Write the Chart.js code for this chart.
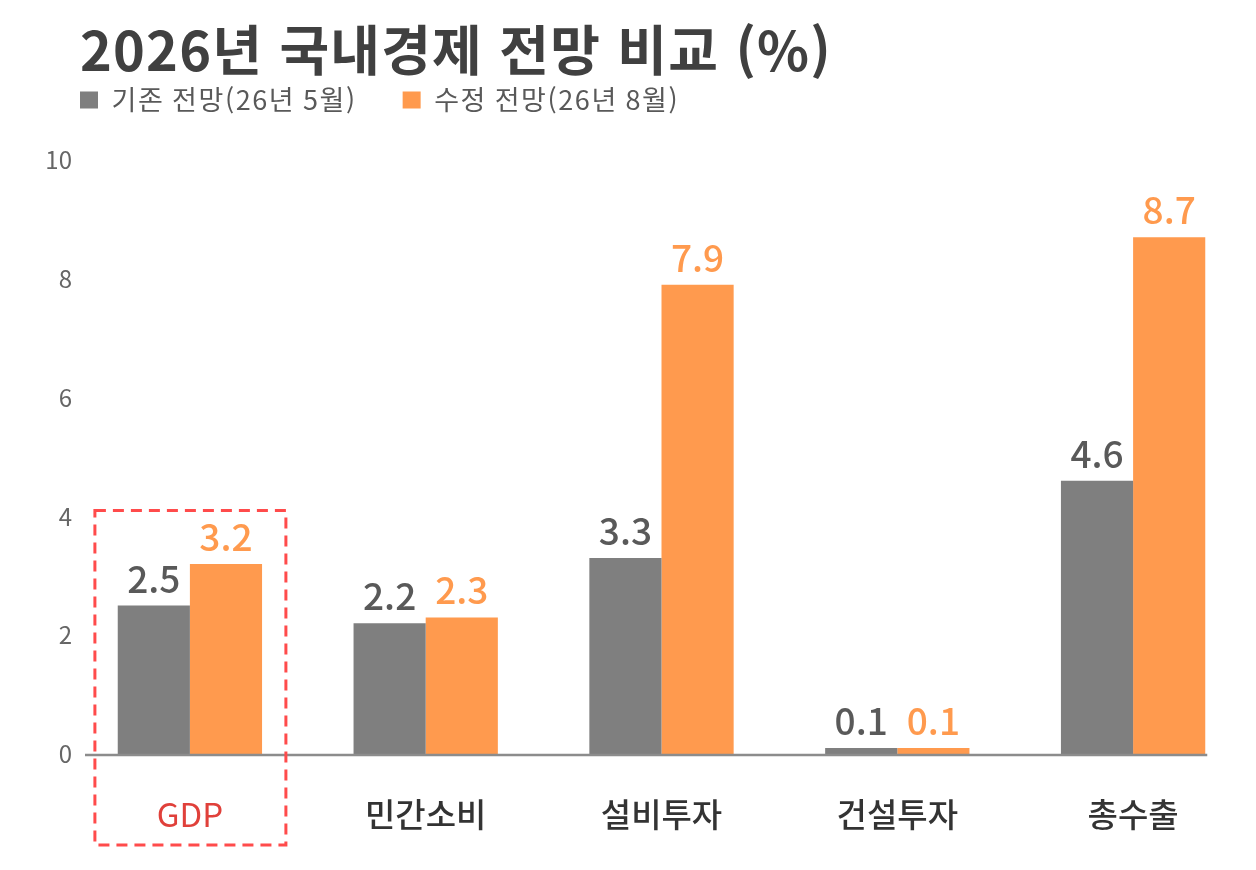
<!DOCTYPE html>
<html lang="ko">
<head>
<meta charset="utf-8">
<title>2026년 국내경제 전망 비교</title>
<script src="https://cdn.jsdelivr.net/npm/chart.js@4.4.1/dist/chart.umd.min.js"></script>
<style>
  html, body { margin: 0; padding: 0; background: #fff; }
  #wrap { position: relative; width: 1256px; height: 870px; }
  #title {
    position: absolute; left: 80px; top: 21px; margin: 0;
    font: 700 54px/54px "Noto Sans CJK KR", "Noto Sans", sans-serif;
    color: #404040; letter-spacing: 1.2px; white-space: nowrap;
  }
  canvas { position: absolute; left: 0; top: 0; }
</style>
</head>
<body>
<div id="wrap">
  <h1 id="title">2026년 국내경제 전망 비교 (%)</h1>
  <canvas id="myChart" width="1256" height="870"></canvas>
</div>
<script>
"use strict";

// chart data
const categories  = ["GDP", "민간소비", "설비투자", "건설투자", "총수출"];
const seriesNames = ["기존 전망(26년 5월)", "수정 전망(26년 8월)"];
const mayValues   = [2.5, 2.2, 3.3, 0.1, 4.6];
const augValues   = [3.2, 2.3, 7.9, 0.1, 8.7];
const yTicks      = [0, 2, 4, 6, 8, 10];

const grayColor   = "#7f7f7f";
const orangeColor = "#ff9a4e";
const fontFamily  = '"Noto Sans CJK KR", "Noto Sans", sans-serif';

// legend: a bit of letter spacing and a fixed height so the plot starts lower
const legendTweaks = {
    id: "legendTweaks",
    beforeInit(chart) {
        const legend = chart.legend;
        if (!legend) return;
        const fit = legend.fit;
        const draw = legend.draw;
        legend.fit = function () {
            chart.ctx.save();
            chart.ctx.letterSpacing = "1.6px";
            fit.apply(this, arguments);
            chart.ctx.restore();
            this.height = 119.5;
        };
        legend.draw = function () {
            chart.ctx.save();
            chart.ctx.letterSpacing = "1.6px";
            draw.apply(this, arguments);
            chart.ctx.restore();
        };
    }
};

// value labels over each bar
const valueLabels = {
    id: "valueLabels",
    afterDatasetsDraw(chart) {
        const ctx = chart.ctx;
        const colors = ["#595959", orangeColor];
        ctx.save();
        ctx.font = "500 37px " + fontFamily;
        ctx.textAlign = "center";
        ctx.textBaseline = "alphabetic";
        chart.data.datasets.forEach(function (ds, i) {
            ctx.fillStyle = colors[i];
            chart.getDatasetMeta(i).data.forEach(function (bar, j) {
                ctx.fillText(ds.data[j].toFixed(1), bar.x, bar.y - 13);
            });
        });
        ctx.restore();
    }
};

// base line and the dashed box round GDP
const decorations = {
    id: "decorations",
    afterDatasetsDraw(chart) {
        const ctx = chart.ctx;
        const area = chart.chartArea;
        const x = chart.scales.x;
        const y = chart.scales.y;
        const lastBar = chart.getDatasetMeta(1).data[categories.length - 1];

        ctx.save();
        ctx.strokeStyle = "#8c8c8c";
        ctx.lineWidth = 2.5;
        ctx.beginPath();
        ctx.moveTo(area.left + 13, y.getPixelForValue(0) + 1);
        ctx.lineTo(lastBar.x + lastBar.width / 2 + 2, y.getPixelForValue(0) + 1);
        ctx.stroke();

        const cx = x.getPixelForValue(0);
        const top = y.getPixelForValue(4.1);
        ctx.strokeStyle = "#ff4b4b";
        ctx.lineWidth = 3;
        ctx.setLineDash([11, 7]);
        ctx.strokeRect(cx - 95, top, 191, area.bottom + 91 - top);
        ctx.restore();
    }
};

const ctx = document.getElementById("myChart").getContext("2d");

new Chart(ctx, {
    type: "bar",
    data: {
        labels: categories,
        datasets: [
            { label: seriesNames[0], data: mayValues, backgroundColor: grayColor },
            { label: seriesNames[1], data: augValues, backgroundColor: orangeColor }
        ]
    },
    options: {
        responsive: false,
        animation: false,
        layout: { padding: { top: 40.5, left: 34, right: 5, bottom: 37 } },
        datasets: { bar: { categoryPercentage: 0.612, barPercentage: 1.0 } },
        plugins: {
            title: { display: false },
            tooltip: { enabled: false },
            legend: {
                position: "top",
                align: "start",
                labels: {
                    boxWidth: 18,
                    boxHeight: 17,
                    padding: 46,
                    color: "#595959",
                    font: { family: fontFamily, size: 27 }
                }
            }
        },
        scales: {
            x: {
                afterFit: function (scale) { scale.height = 79; },
                grid: { display: false, drawTicks: false },
                border: { display: false },
                ticks: {
                    padding: 41,
                    maxRotation: 0,
                    autoSkip: false,
                    color: function (c) { return c.index === 0 ? "#e0403a" : "#333333"; },
                    font: function (c) {
                        return { family: fontFamily, size: 33, weight: c.index === 0 ? 400 : 500 };
                    }
                }
            },
            y: {
                min: 0,
                max: 10,
                afterBuildTicks: function (scale) {
                    scale.ticks = yTicks.map(function (v) { return { value: v }; });
                },
                afterFit: function (scale) { scale.width = 38; },
                grid: { display: false, drawTicks: false },
                border: { display: false },
                ticks: {
                    padding: 0,
                    color: "#666666",
                    font: { family: fontFamily, size: 24 }
                }
            }
        }
    },
    plugins: [legendTweaks, valueLabels, decorations]
});
</script>
</body>
</html>
